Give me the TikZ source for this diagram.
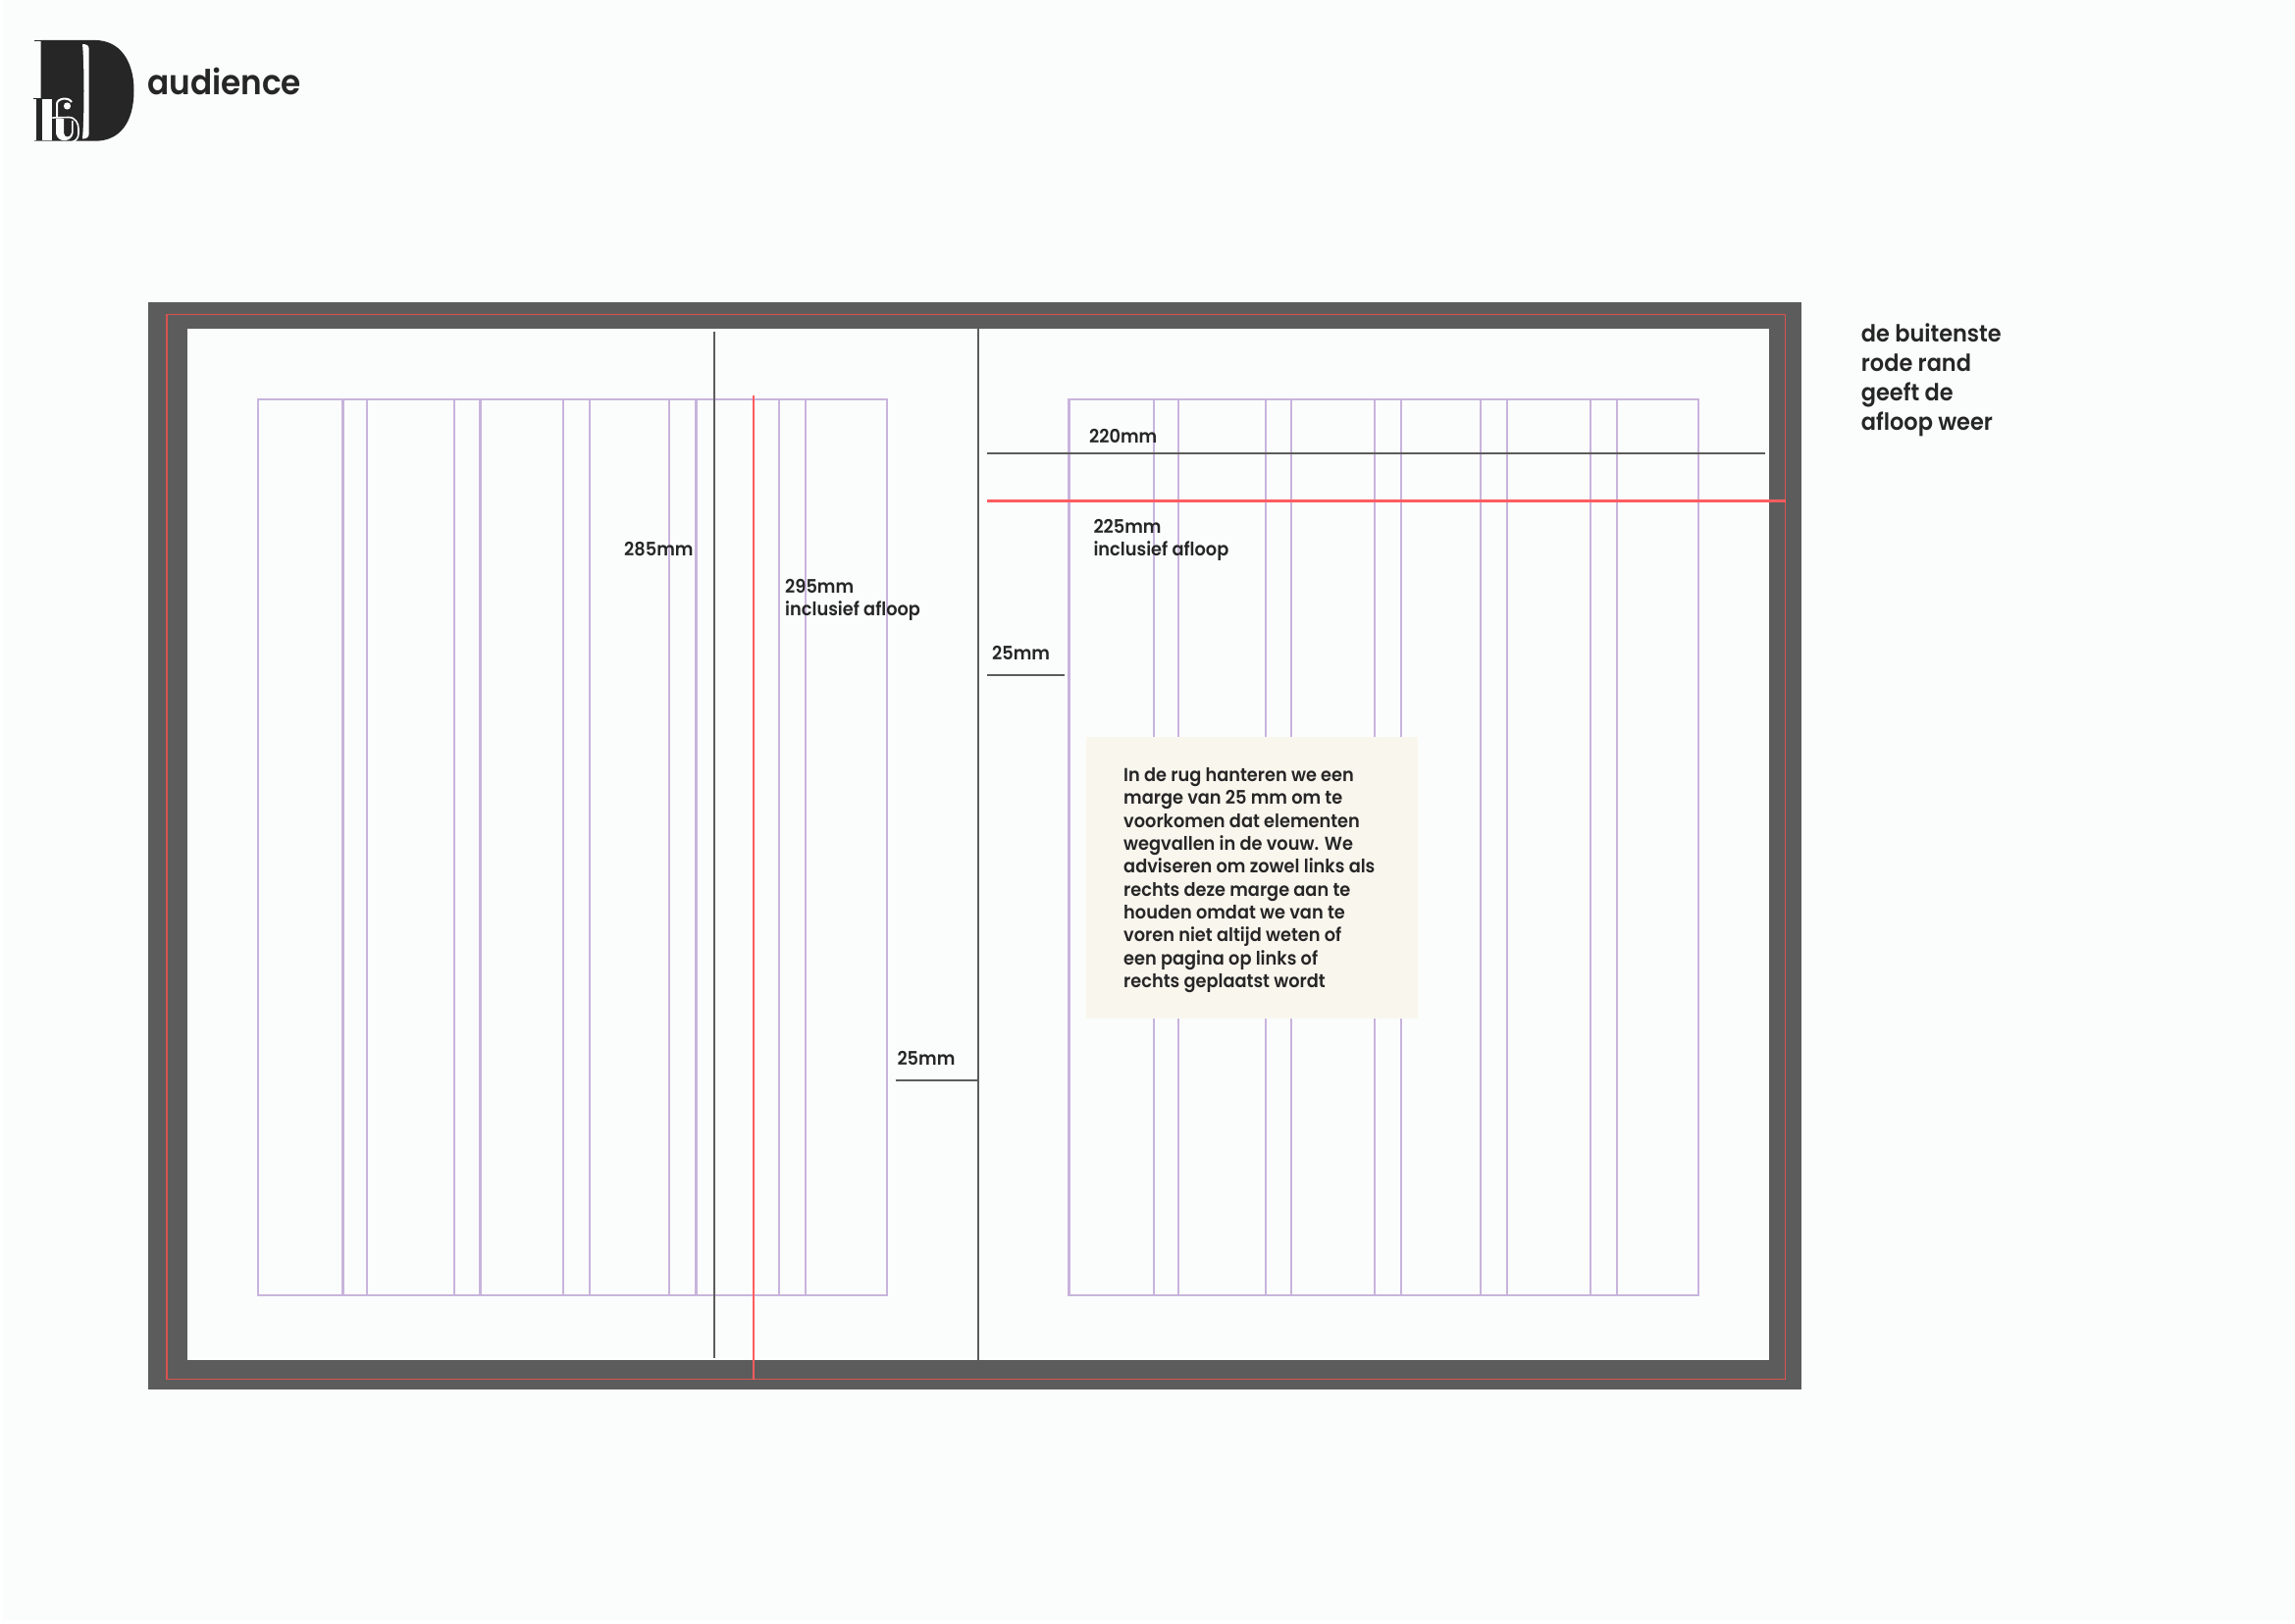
\documentclass[tikz,border=0pt]{standalone}
\usepackage{fontspec}
\newfontfamily\fu[FakeStretch=0.935]{Poppins SemiBold}
\definecolor{bg}{HTML}{FBFDFC}
\definecolor{ink}{HTML}{262626}
\definecolor{frame}{HTML}{5C5C5C}
\definecolor{grid}{HTML}{C8B4DC}
\definecolor{bleed}{HTML}{FF5C60}
\definecolor{bleedrim}{HTML}{D9524F}
\definecolor{note}{HTML}{F9F6EE}
\newlength{\mylead}
\newcommand{\tl}[1]{\hbox{#1}}
\newcommand{\stack}[1]{\vtop{\baselineskip=\mylead\lineskiplimit=-100pt #1}}
\tikzset{
  label/.style={anchor=base west,inner sep=0pt,text=ink,font=\fu\fontsize{19}{23.3}\selectfont},
  gridline/.style={draw=grid,line width=2.4pt},
  darkline/.style={draw=frame,line width=2.2pt},
  redline/.style={draw=bleed,line width=2.4pt}
}
\begin{document}
\begin{tikzpicture}[x=1pt,y=-1pt]
\useasboundingbox (0,0) rectangle (2339,1654);
\fill[white] (0,0) rectangle (2339,1654);
\fill[bg] (3,0) rectangle (2339,1651);
% logo
\fill[ink] (41.7,41) -- (97,41) .. controls (122,41) and (136.5,62) .. (136.5,92) .. controls (136.5,125) and (122,143.7) .. (97,143.7) -- (41.7,143.7) -- cycle;
\fill[ink] (35,41) rectangle (42,42.3);
\fill[bg] (84,45) .. controls (88,45) and (90.7,46) .. (90.7,50) -- (90.7,136) .. controls (90.7,140) and (88,141.5) .. (84,141.5) .. controls (86,120) and (86,65) .. (84,45) -- cycle;
\fill[bg] (33,100.5) rectangle (53.3,143);
\fill[ink] (34,100) rectangle (42.7,101);
\fill[ink] (36.7,100) rectangle (42.7,143);
\fill[ink!60] (35,143) rectangle (53.3,144);
% small white letters inside the D
\fill[bg] (57,121) -- (65,121) -- (65,135) .. controls (65,141) and (72,141) .. (73,135) -- (73,123) -- (74.5,123) -- (74.5,136) .. controls (73,145) and (59,146) .. (57,136) -- cycle;
\draw[bg,line width=1.6pt] (53.3,120) -- (70,119.5) .. controls (77,119.5) and (80,126) .. (80,131) -- (80,136) .. controls (80,140) and (78,143) .. (74,144.5);
\draw[bg,line width=2pt] (58,119) -- (58,106) .. controls (58,100) and (70,98.5) .. (73,104);
\fill[bg] (68.5,108) circle (3.6);
\node[anchor=base west,inner sep=0pt,text=ink,font=\fu\fontsize{35}{40}\selectfont] (brand) at (150,96) {audience};
% frame
\fill[frame] (150.5,307.5) rectangle (1835.7,1416);
\fill[bg] (190.5,335) rectangle (1802.7,1386);
\draw[bleedrim,line width=1.3pt] (170,320.3) rectangle (1819.7,1405.8);
% column grids
\foreach \ox in {262.7,1089.5}{
  \draw[gridline] (\ox,407) rectangle (\ox+641.3,1320);
  \foreach \d in {86.7,111.5,200.2,226.7,311.5,338.3,419.2,446.7,531.5,558.2}
    \draw[gridline] (\ox+\d,407) -- (\ox+\d,1320);
}
% dimension lines
\draw[darkline] (727.7,338) -- (727.7,1384);
\draw[darkline] (996.7,328) -- (996.7,1386);
\draw[redline] (767.7,402.7) -- (767.7,1405.8);
\draw[darkline] (1006,462.3) -- (1799.3,462.3);
\draw[redline] (1006,510.6) -- (1820,510.6);
\draw[darkline,line width=1.8pt] (1006,687.9) -- (1085,687.9);
\draw[darkline,line width=1.8pt] (912.7,1100.6) -- (996,1100.6);
% note box
\fill[note] (1107.3,751) rectangle (1445,1037.7);
% labels
\setlength{\mylead}{23.33pt}
\node[label] (h285) at (636,566.5) {285mm};
\node[label] (h295) at (800,604) {\stack{\tl{295mm}\tl{inclusief afloop}}};
\node[label] (w220) at (1110,451.5) {220mm};
\node[label] (w225) at (1114.3,543.2) {\stack{\tl{225mm}\tl{inclusief afloop}}};
\node[label] (m25a) at (1011,672.8) {25mm};
\node[label] (m25b) at (914.3,1085) {25mm};
\node[label] (para) at (1145,796.5) {\stack{\tl{In de rug hanteren we een}\tl{marge van 25 mm om te}\tl{voorkomen dat elementen}\tl{wegvallen in de vouw. We}\tl{adviseren om zowel links als}\tl{rechts deze marge aan te}\tl{houden omdat we van te}\tl{voren niet altijd weten of}\tl{een pagina op links of}\tl{rechts geplaatst wordt}}};
\setlength{\mylead}{30pt}
\node[label,font=\fu\fontsize{24}{30}\selectfont] (side) at (1896.7,348.5) {\stack{\tl{de buitenste}\tl{rode rand}\tl{geeft de}\tl{afloop weer}}};
\end{tikzpicture}
\end{document}
